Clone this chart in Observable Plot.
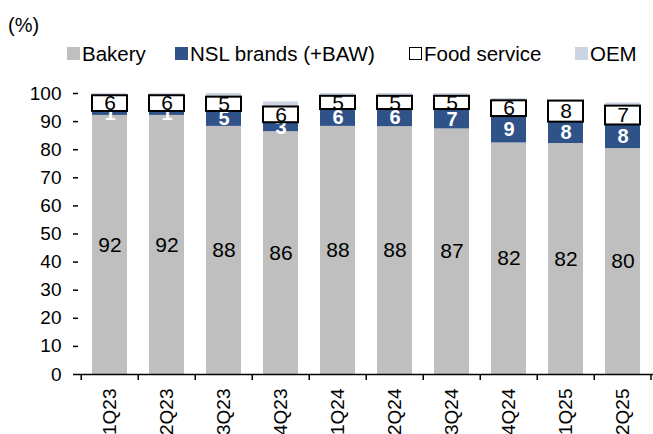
<!DOCTYPE html>
<html>
<head>
<meta charset="utf-8">
<script src="https://cdn.jsdelivr.net/npm/d3@7"></script>
<script src="https://cdn.jsdelivr.net/npm/@observablehq/plot@0.6"></script>
<style>
  body { margin: 0; background: #fff; font-family: "Liberation Sans", Arial, sans-serif; color: #000; }
  #wrap { position: relative; width: 653px; height: 434px; overflow: hidden; }
  #chart { position: absolute; left: 0; top: 0; }
  .unit { position: absolute; left: 8px; top: 15px; font-size: 20px; line-height: 20px; }
  .sw { position: absolute; top: 47px; width: 13px; height: 13px; box-sizing: border-box; }
  .lt { position: absolute; top: 44px; font-size: 20.5px; line-height: 20.5px; white-space: nowrap; }
</style>
</head>
<body>
<div id="wrap">
  <div id="chart"></div>
  <div class="unit">(%)</div>
  <div id="legend"></div>
</div>
<script>
// ---- data ----
const quarters = ["1Q23","2Q23","3Q23","4Q23","1Q24","2Q24","3Q24","4Q24","1Q25","2Q25"];
const bakery      = [92.2, 92.2, 88.3, 86.4, 88.3, 88.2, 87.4, 82.4, 82.2, 80.4];
const nsl         = [1.4, 1.4, 5.3, 3.2, 6.0, 6.1, 6.9, 9.4, 7.6, 8.4];
const foodService = [5.6, 5.6, 5.1, 5.6, 4.7, 4.7, 4.7, 5.6, 7.5, 6.7];
const oem         = [0.8, 0.8, 1.3, 1.8, 1.0, 1.0, 1.0, 0.8, 0.3, 1.1];
const segments = ["Bakery", "NSL brands (+BAW)", "Food service", "OEM"];
const colors   = ["#bfbfbf", "#2f5288", "#ffffff", "#ccd4e2"];
const yTicks = [0, 10, 20, 30, 40, 50, 60, 70, 80, 90, 100];

// ---- layout ----
const W = 653, H = 434;
const mL = 78, mR = 0, mT = 93, mB = 60;
const step = (W - mL - mR) / quarters.length;

const series = [bakery, nsl, foodService, oem];
const rows = [];
segments.forEach((s, k) => quarters.forEach((q, i) => rows.push({quarter: q, segment: s, value: series[k][i]})));

const base = {x: "quarter", y: "value", z: "segment", order: segments};
const font = "Liberation Sans, Arial, sans-serif";
const isFS = d => d.segment === "Food service" ? 1 : 0;

const plot = Plot.plot({
  width: W, height: H,
  marginLeft: mL, marginRight: mR, marginTop: mT, marginBottom: mB,
  style: {fontFamily: font, color: "#000", background: "#fff", overflow: "visible"},
  x: {domain: quarters, paddingInner: 0.39, paddingOuter: 0.195, label: null},
  y: {domain: [0, 100], label: null},
  color: {domain: segments, range: colors},
  opacity: {domain: [0, 1], range: [0, 1]},
  marks: [
    Plot.barY(rows, {...base, fill: "segment"}),
    Plot.text(rows, Plot.stackY({...base,
      text: d => d.segment === "NSL brands (+BAW)" ? Math.round(d.value) : null,
      fill: "#fff", fontSize: 20, fontWeight: "bold"})),
    Plot.barY(rows, {...base, fill: "#fff", stroke: "#000", strokeWidth: 2,
      fillOpacity: isFS, strokeOpacity: isFS}),
    Plot.text(rows, Plot.stackY({...base,
      text: d => d.segment === "Food service" ? Math.round(d.value) : null,
      fill: "#000", fontSize: 21})),
    Plot.text(rows, Plot.stackY({...base,
      text: d => d.segment === "Bakery" ? Math.round(d.value) : null,
      fill: "#000", fontSize: 21})),
    Plot.axisY({ticks: yTicks, tickSize: 5, tickPadding: 12, fontSize: 19, label: null, line: true, strokeWidth: 1.5}),
    Plot.axisX({tickSize: 0, tickPadding: 14, tickRotate: -90, fontSize: 19, label: null}),
    Plot.ruleY([0], {stroke: "#000", strokeWidth: 1.5}),
    Plot.ruleX(quarters, {x: d => d, dx: -step / 2, y1: 0, y2: 0, insetBottom: -6, stroke: "#000", strokeWidth: 1.5}),
    Plot.ruleX(quarters.slice(-1), {x: d => d, dx: step / 2 - 0.75, y1: 0, y2: 0, insetBottom: -6, stroke: "#000", strokeWidth: 1.5})
  ]
});
document.getElementById("chart").appendChild(plot);

// ---- legend ----
const legendX = [67, 175, 409, 575];
const legend = document.getElementById("legend");
segments.forEach((s, k) => {
  const sw = document.createElement("div");
  sw.className = "sw";
  sw.style.left = legendX[k] + "px";
  sw.style.background = colors[k];
  if (s === "Food service") sw.style.border = "1.5px solid #000";
  legend.appendChild(sw);
  const t = document.createElement("div");
  t.className = "lt";
  t.style.left = (legendX[k] + 15) + "px";
  t.textContent = s;
  legend.appendChild(t);
});
</script>
</body>
</html>
